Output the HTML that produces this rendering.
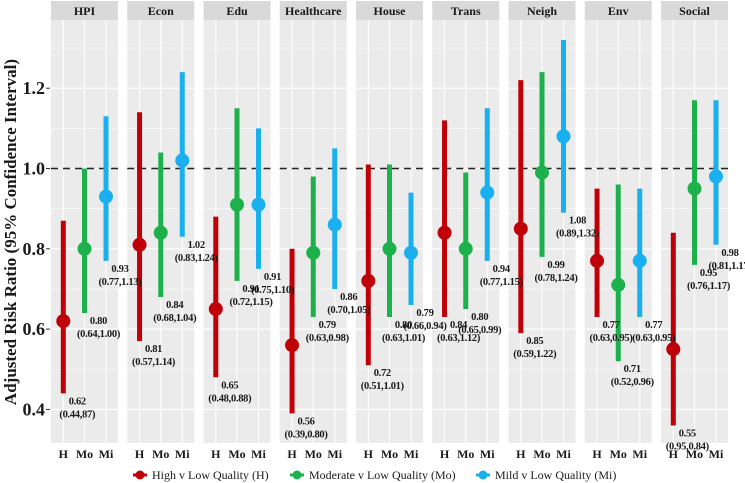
<!DOCTYPE html>
<html><head><meta charset="utf-8"><style>
body{margin:0;background:#fff;}
svg{display:block;font-family:"Liberation Serif",serif;}
</style></head><body>
<svg id="chart" width="745" height="483"></svg>
<script>
const panels=["HPI","Econ","Edu","Healthcare","House","Trans","Neigh","Env","Social"];
const groups=["H","Mo","Mi"];
const estH=[0.62,0.81,0.65,0.56,0.72,0.84,0.85,0.77,0.55];
const lowH=[0.44,0.57,0.48,0.39,0.51,0.63,0.59,0.63,0.36];
const upH=[0.87,1.14,0.88,0.80,1.01,1.12,1.22,0.95,0.84];
const estMo=[0.80,0.84,0.91,0.79,0.80,0.80,0.99,0.71,0.95];
const lowMo=[0.64,0.68,0.72,0.63,0.63,0.65,0.78,0.52,0.76];
const upMo=[1.00,1.04,1.15,0.98,1.01,0.99,1.24,0.96,1.17];
const estMi=[0.93,1.02,0.91,0.86,0.79,0.94,1.08,0.77,0.98];
const lowMi=[0.77,0.83,0.75,0.70,0.66,0.77,0.89,0.63,0.81];
const upMi=[1.13,1.24,1.10,1.05,0.94,1.15,1.32,0.95,1.17];
const labH=["(0.44,87)","(0.57,1.14)","(0.48,0.88)","(0.39,0.80)","(0.51,1.01)","(0.63,1.12)","(0.59,1.22)","(0.63,0.95)","(0.95,0.84)"];
const yTicks=[0.4,0.6,0.8,1.0,1.2];
const colors=["#C00008","#1DB14B","#1AAFEF"];
const legendText=["High v Low Quality (H)","Moderate v Low Quality (Mo)","Mild v Low Quality (Mi)"];

const NS="http://www.w3.org/2000/svg";
const svg=document.getElementById('chart');
function mk(t,a,p){const e=document.createElementNS(NS,t);for(const k in a)e.setAttribute(k,a[k]);(p||svg).appendChild(e);return e;}
const y=v=>168.5-(v-1)*401.5;
const topY=20,botY=443,pw=67,step=76.25,x0=51;
const px=i=>x0+i*step;
const gx=j=>[12.3,33.5,55][j];
const est=[estH,estMo,estMi],low=[lowH,lowMo,lowMi],up=[upH,upMo,upMi];
function fmt(v){return v.toFixed(2);}
panels.forEach((p,i)=>{
  const g=mk('g',{});
  
  
  const X=px(i);
  mk('rect',{x:X,y:topY,width:pw,height:botY-topY,fill:'#EBEBEB'},g);
  const s=mk('rect',{x:X,y:1,width:pw,height:19,fill:'#D9D9D9'},g);
  
  
  const st=mk('text',{x:X+pw/2,y:15,'text-anchor':'middle','font-size':12,'font-weight':'bold',fill:'#1a1a1a'},g);st.textContent=p;
  
  
  for(let k=3;k<=13;k++){const v=k/10;const yy=y(v);if(yy<topY||yy>botY)continue;
    const major=k%2===0;
    mk('line',{x1:X,x2:X+pw,y1:yy,y2:yy,stroke:'#fff','stroke-width':major?1.1:0.5},g);}
  groups.forEach((gname,j)=>mk('line',{x1:X+gx(j),x2:X+gx(j),y1:topY,y2:botY,stroke:'#fff','stroke-width':1.1},g));
  mk('line',{x1:X,x2:X+pw,y1:y(1),y2:y(1),stroke:'#222','stroke-width':1.6,'stroke-dasharray':'7,5'},g);
  groups.forEach((gname,j)=>{
    const cx=X+gx(j);
    const ln=mk('line',{x1:cx,x2:cx,y1:y(low[j][i]),y2:y(up[j][i]),stroke:colors[j],'stroke-width':5},g);
    
    
    const c=mk('circle',{cx:cx,cy:y(est[j][i]),r:7,fill:colors[j]},g);
    
    
    const xt=mk('text',{x:cx,y:458,'text-anchor':'middle','font-size':12,'font-weight':'bold',fill:'#1a1a1a'},g);
    xt.textContent=gname;
    
    
  });
});
panels.forEach((p,i)=>{
  const X=px(i);
  groups.forEach((gname,j)=>{
    const cx=X+gx(j);
    const ly=y(low[j][i])+7;
    const t1=mk('text',{x:cx+14,y:ly+4,'text-anchor':'middle','font-size':10.5,'letter-spacing':'-0.3','font-weight':'bold',fill:'#1a1a1a'});
    t1.textContent=fmt(est[j][i]);
    
    
    const t2=mk('text',{x:cx+14,y:ly+17,'text-anchor':'middle','font-size':10.5,'letter-spacing':'-0.3','font-weight':'bold',fill:'#1a1a1a'});
    t2.textContent=j===0?labH[i]:'('+fmt(low[j][i])+','+fmt(up[j][i])+')';
    
    
  });
});
yTicks.forEach(v=>{
  mk('line',{x1:46,x2:50,y1:y(v),y2:y(v),stroke:'#333','stroke-width':1});
  const t=mk('text',{x:45,y:y(v)+6,'text-anchor':'end','font-size':18,'font-weight':'bold',fill:'#1a1a1a'});
  t.textContent=v.toFixed(1);
  
  
});
const yt=mk('text',{x:0,y:0,transform:'translate(16,232) rotate(-90)','text-anchor':'middle','font-size':17,'font-weight':'bold',fill:'#1a1a1a'});
yt.textContent='Adjusted Risk Ratio (95% Confidence Interval)';


const lx=[140,297,483];
legendText.forEach((s,j)=>{
  const g=mk('g',{});
  
  
  mk('line',{x1:lx[j]-7,x2:lx[j]+7,y1:475,y2:475,stroke:colors[j],'stroke-width':3},g);
  mk('circle',{cx:lx[j],cy:475,r:4.5,fill:colors[j]},g);
  const t=mk('text',{x:lx[j]+12,y:479,'font-size':12,fill:'#1a1a1a'},g);t.textContent=s;
});
</script>
</body></html>
